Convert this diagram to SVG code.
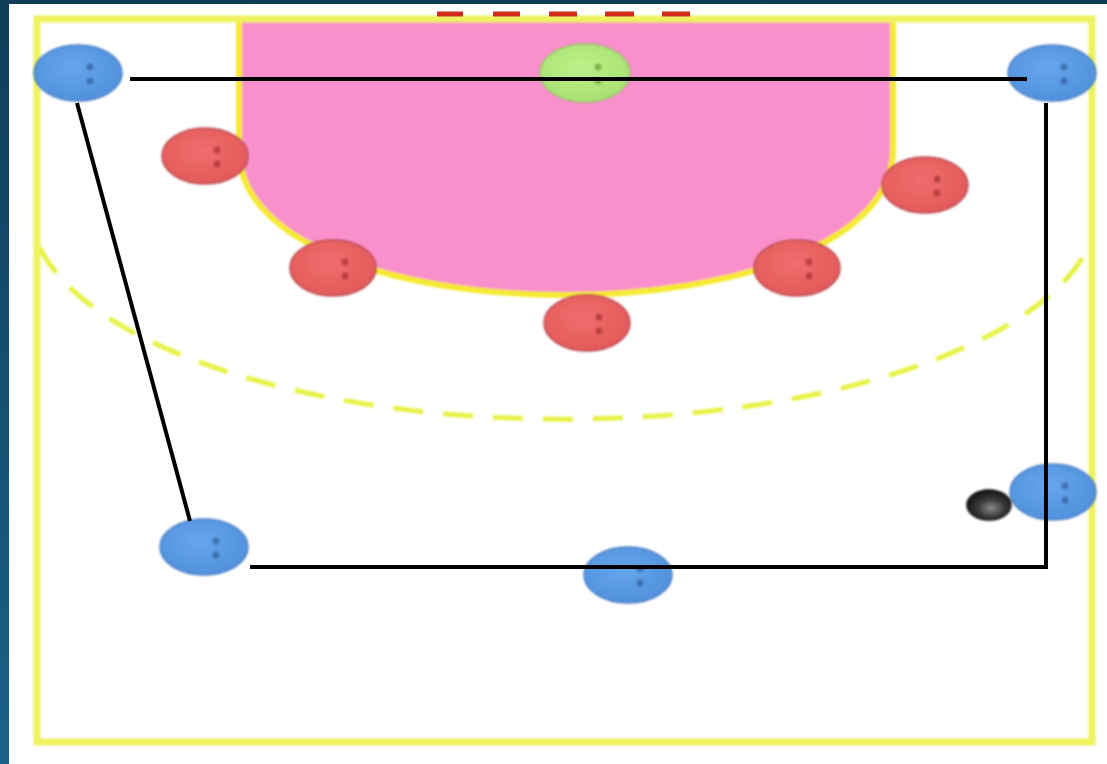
<svg xmlns="http://www.w3.org/2000/svg" width="1107" height="764" viewBox="0 0 1107 764">
  <defs>
    <linearGradient id="bg" x1="0" y1="0" x2="0" y2="1">
      <stop offset="0" stop-color="#0f3d59"/>
      <stop offset="1" stop-color="#1a6289"/>
    </linearGradient>
    <radialGradient id="blueFill" cx="0.45" cy="0.4" r="0.65">
      <stop offset="0" stop-color="#66a6ec"/>
      <stop offset="1" stop-color="#4f8fdc"/>
    </radialGradient>
    <radialGradient id="redFill" cx="0.45" cy="0.4" r="0.65">
      <stop offset="0" stop-color="#f06e6e"/>
      <stop offset="1" stop-color="#e25858"/>
    </radialGradient>
    <radialGradient id="greenFill" cx="0.45" cy="0.4" r="0.65">
      <stop offset="0" stop-color="#bdf08a"/>
      <stop offset="1" stop-color="#a6e070"/>
    </radialGradient>
    <radialGradient id="ballFill" cx="0.55" cy="0.6" r="0.6">
      <stop offset="0" stop-color="#8a8a8a"/>
      <stop offset="0.5" stop-color="#3a3a3a"/>
      <stop offset="1" stop-color="#111"/>
    </radialGradient>
    <filter id="soft" x="-20%" y="-20%" width="140%" height="140%">
      <feGaussianBlur stdDeviation="1"/>
    </filter>
    <filter id="glow" x="-5%" y="-5%" width="110%" height="110%">
      <feGaussianBlur stdDeviation="1"/>
    </filter>
    <style>
      .court { fill: none; stroke: #eef25c; stroke-width: 7; }
      .area { fill: #f98fcb; stroke: #f6ea2e; stroke-width: 6; }
      .arc { fill: none; stroke: #e6f244; stroke-width: 5; stroke-dasharray: 30 20; }
      .goal { stroke: #d02a1c; stroke-width: 5; }
      .blue { fill: url(#blueFill); stroke: #4c80c4; stroke-width: 1.5; }
      .red { fill: url(#redFill); stroke: #b8474f; stroke-width: 1.5; }
      .green { fill: url(#greenFill); stroke: #98c866; stroke-width: 1.5; }
      .eye { fill: #3a68a8; opacity: 0.85; }
      .eyeR { fill: #b03838; opacity: 0.85; }
      .eyeG { fill: #78a848; opacity: 0.85; }
      .link { fill: none; stroke: #000; stroke-width: 4; }
    </style>
  </defs>

  <!-- frame and page -->
  <rect x="0" y="0" width="1107" height="764" fill="url(#bg)"/>
  <rect x="9" y="4" width="1098" height="760" fill="#ffffff"/>

  <!-- court -->
  <g id="court" filter="url(#glow)">
    <path class="area" d="M239,19 V150 C239,245 400,295 565,295 C730,295 893,245 893,150 V19"/>
    <rect class="court" x="37" y="19" width="1055" height="723"/>
    <path class="arc" d="M40,248 A 534 212 0 0 0 1088,248"/>
  </g>

  <!-- goal -->
  <g id="goal">
    <line class="goal" x1="437" y1="14" x2="463" y2="14"/>
    <line class="goal" x1="493" y1="14" x2="520" y2="14"/>
    <line class="goal" x1="549" y1="14" x2="577" y2="14"/>
    <line class="goal" x1="605" y1="14" x2="634" y2="14"/>
    <line class="goal" x1="662" y1="14" x2="690" y2="14"/>
  </g>

  <!-- attackers -->
  <g id="attacker-left-wing" filter="url(#soft)">
    <ellipse class="blue" cx="78" cy="73" rx="44" ry="28"/>
    <circle class="eye" cx="90" cy="67" r="3.5"/><circle class="eye" cx="90" cy="81" r="3.5"/>
  </g>
  <g id="attacker-right-wing" filter="url(#soft)">
    <ellipse class="blue" cx="1052" cy="73" rx="44" ry="28"/>
    <circle class="eye" cx="1064" cy="67" r="3.5"/><circle class="eye" cx="1064" cy="81" r="3.5"/>
  </g>
  <g id="attacker-right-back" filter="url(#soft)">
    <ellipse class="blue" cx="1053" cy="492" rx="43" ry="28"/>
    <circle class="eye" cx="1065" cy="486" r="3.5"/><circle class="eye" cx="1065" cy="500" r="3.5"/>
  </g>
  <g id="attacker-left-back" filter="url(#soft)">
    <ellipse class="blue" cx="204" cy="547" rx="44" ry="28"/>
    <circle class="eye" cx="216" cy="541" r="3.5"/><circle class="eye" cx="216" cy="555" r="3.5"/>
  </g>
  <g id="attacker-centre-back" filter="url(#soft)">
    <ellipse class="blue" cx="628" cy="575" rx="44" ry="28"/>
    <circle class="eye" cx="640" cy="569" r="3.5"/><circle class="eye" cx="640" cy="583" r="3.5"/>
  </g>

  <!-- goalkeeper -->
  <g id="goalkeeper" filter="url(#soft)">
    <ellipse class="green" cx="585" cy="73" rx="45" ry="29"/>
    <circle class="eyeG" cx="598" cy="67" r="3.5"/><circle class="eyeG" cx="598" cy="81" r="3.5"/>
  </g>

  <!-- defenders -->
  <g id="defender-1" filter="url(#soft)">
    <ellipse class="red" cx="205" cy="156" rx="43" ry="28"/>
    <circle class="eyeR" cx="217" cy="150" r="3.5"/><circle class="eyeR" cx="217" cy="164" r="3.5"/>
  </g>
  <g id="defender-2" filter="url(#soft)">
    <ellipse class="red" cx="333" cy="268" rx="43" ry="28"/>
    <circle class="eyeR" cx="345" cy="262" r="3.5"/><circle class="eyeR" cx="345" cy="276" r="3.5"/>
  </g>
  <g id="defender-3" filter="url(#soft)">
    <ellipse class="red" cx="587" cy="323" rx="43" ry="28"/>
    <circle class="eyeR" cx="599" cy="317" r="3.5"/><circle class="eyeR" cx="599" cy="331" r="3.5"/>
  </g>
  <g id="defender-4" filter="url(#soft)">
    <ellipse class="red" cx="797" cy="268" rx="43" ry="28"/>
    <circle class="eyeR" cx="809" cy="262" r="3.5"/><circle class="eyeR" cx="809" cy="276" r="3.5"/>
  </g>
  <g id="defender-5" filter="url(#soft)">
    <ellipse class="red" cx="925" cy="185" rx="43" ry="28"/>
    <circle class="eyeR" cx="937" cy="179" r="3.5"/><circle class="eyeR" cx="937" cy="193" r="3.5"/>
  </g>

  <!-- ball -->
  <g id="ball" filter="url(#soft)">
    <ellipse cx="989" cy="505" rx="22" ry="15" fill="url(#ballFill)" stroke="#0a0a0a" stroke-width="1.5"/>
  </g>

  <!-- passing lines -->
  <g id="connectors">
    <line class="link" x1="130" y1="79" x2="1027" y2="79"/>
    <polyline class="link" points="1046,103 1046,567 250,567"/>
    <line class="link" x1="77" y1="103" x2="190" y2="521"/>
  </g>
</svg>
